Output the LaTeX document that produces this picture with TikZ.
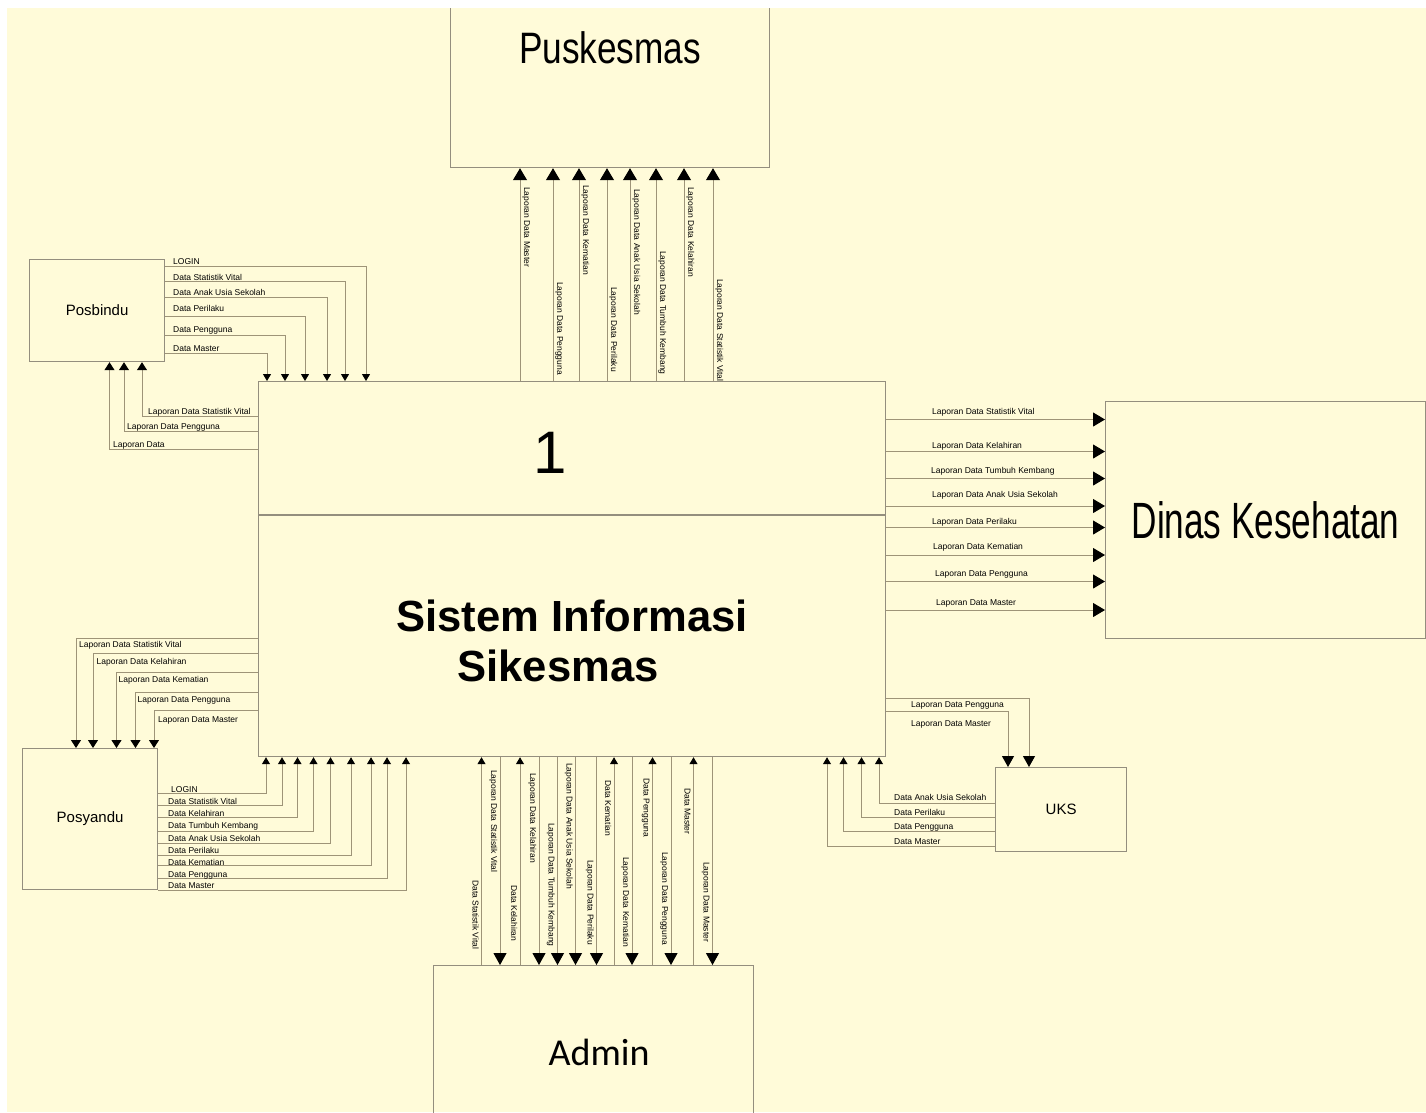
\documentclass[tikz,border=0pt]{standalone}
\usepackage{fontspec}
\setmainfont{Liberation Sans}
\newfontfamily\adminfont{Carlito}
\usetikzlibrary{arrows.meta}

\definecolor{paper}{RGB}{255,251,217}
\definecolor{wire}{RGB}{158,148,120}
\definecolor{edge}{RGB}{148,142,126}

\tikzset{
  ent/.style={draw=edge, line width=1.2pt, inner sep=0pt, anchor=north west},
  flow/.style={draw=wire, line width=1pt},
  lbl/.style={font=\fontsize{8.5}{10}\selectfont, inner sep=0pt, text=black},
  tipL/.style={-{Triangle[width=14pt,length=12pt,color=black,fill=black]}},
  tipA/.style={-{Triangle[width=13pt,length=12pt,color=black,fill=black]}},
  tipU/.style={-{Triangle[width=12pt,length=11pt,color=black,fill=black]}},
  tipM/.style={-{Triangle[width=10pt,length=8pt,color=black,fill=black]}},
  tipS/.style={-{Triangle[width=8pt,length=7pt,color=black,fill=black]}},
}

\begin{document}
\begin{tikzpicture}[x=1pt,y=-1pt]
\useasboundingbox (0,0) rectangle (1426,1112);
\fill[white] (0,0) rectangle (1426,1112);
\fill[paper] (7,8) rectangle (1426,1112);

\begin{scope}
\clip (7,8) rectangle (1426,1112);

% external entities and the process
\node[ent, minimum width=319pt, minimum height=240pt] (pusk) at (450,-73)
  {\fontsize{44}{50}\selectfont\scalebox{0.8}[1]{Puskesmas}};
\node[ent, minimum width=320pt, minimum height=237pt] (dk) at (1105,401)
  {\raisebox{-4pt}{\fontsize{51}{56}\selectfont\scalebox{0.69}[1]{Dinas Kesehatan}}};
\node[ent, minimum width=320pt, minimum height=174pt] (adm) at (433,965)
  {\adminfont\fontsize{38}{42}\selectfont\hspace*{11pt}Admin};
\node[ent, minimum width=135pt, minimum height=102pt] (pb) at (29,259)
  {\fontsize{15}{18}\selectfont Posbindu};
\node[ent, minimum width=135pt, minimum height=141pt] (py) at (22,748)
  {\fontsize{15}{18}\selectfont Posyandu};
\node[ent, minimum width=131pt, minimum height=84pt] (uks) at (995,767)
  {\fontsize{15}{18}\selectfont UKS};
\node[ent, minimum width=627pt, minimum height=375pt] (proc) at (258,381) {};
\draw[draw=edge, line width=1.2pt] (proc.west |- 0,515) -- (proc.east |- 0,515);
\node (pnum) at (550,453) {\fontsize{60}{66}\selectfont 1};
\node[align=center, font=\fontsize{43.6}{50}\selectfont\bfseries] (pname) at (572,641)
  {Sistem Informasi\\Sikesmas\hspace*{28pt}};

% process -> Puskesmas
\foreach \lx/\ys/\txt in {
  520/187/Laporan Data Master,
  553/282/Laporan Data Pengguna,
  579/185/Laporan Data Kematian,
  607/287/Laporan Data Perilaku,
  630/189/Laporan Data Anak Usia Sekolah,
  656/251/Laporan Data Tumbuh Kembang,
  684/187/Laporan Data Kelahiran,
  713/279/Laporan Data Statistik Vital}{
  \draw[flow, tipL] (proc.north -| \lx,0) -- (pusk.south -| \lx,0);
  \node[lbl, rotate=-90, anchor=base west] at (\lx+4,\ys) {\txt};
}

% Posbindu -> process
\foreach \ly/\lx/\cy/\txt in {
  266/366/261.5/LOGIN,
  281/345/277/Data Statistik Vital,
  297/327/292.5/Data Anak Usia Sekolah,
  316/305/308.5/Data Perilaku,
  335/285/329/Data Pengguna,
  353/267/348/Data Master}{
  \draw[flow, tipS] (pb.east |- 0,\ly) -| (proc.north -| \lx,0);
  \node[lbl, anchor=base west] at (173,\cy+3) {\txt};
}

% process -> Posbindu
\foreach \ly/\lx/\tx/\cy/\txt in {
  416/142/148/411.5/Laporan Data Statistik Vital,
  431/124/127/426.5/Laporan Data Pengguna,
  449.5/109.5/113/444.5/Laporan Data}{
  \draw[flow, tipM] (proc.west |- 0,\ly) -| (pb.south -| \lx,0);
  \node[lbl, anchor=base west] at (\tx,\cy+3) {\txt};
}

% process -> Posyandu
\foreach \ly/\lx/\tx/\cy/\txt in {
  638/76/79/644/Laporan Data Statistik Vital,
  653.5/93/96.5/661/Laporan Data Kelahiran,
  672.5/116.5/118.5/679/Laporan Data Kematian,
  692/135.5/137.5/699/Laporan Data Pengguna,
  710/154/158/719/Laporan Data Master}{
  \draw[flow, tipM] (proc.west |- 0,\ly) -| (py.north -| \lx,0);
  \node[lbl, anchor=base west] at (\tx,\cy+3) {\txt};
}

% Posyandu -> process
\foreach \ly/\lx/\tx/\cy/\txt in {
  793.5/266/171/789/LOGIN,
  805.5/282/168/801.5/Data Statistik Vital,
  817.5/297.5/168/813/Data Kelahiran,
  831.5/313.5/168/825/Data Tumbuh Kembang,
  843.5/330.5/168/838.5/Data Anak Usia Sekolah,
  855.5/351/168/850.5/Data Perilaku,
  865.5/371/168/862/Data Kematian,
  878/387/168/874/Data Pengguna,
  890.5/406/168/885.5/Data Master}{
  \draw[flow, tipS] (py.east |- 0,\ly) -| (proc.south -| \lx,0);
  \node[lbl, anchor=base west] at (\tx,\cy+3) {\txt};
}

% process -> Dinas Kesehatan
\foreach \ly/\tx/\cy/\txt in {
  419.5/932/411.5/Laporan Data Statistik Vital,
  451.5/932/445.5/Laporan Data Kelahiran,
  478.5/931/470/Laporan Data Tumbuh Kembang,
  506/932/494.5/Laporan Data Anak Usia Sekolah,
  527.5/932/521/Laporan Data Perilaku,
  555/933/546/Laporan Data Kematian,
  581.5/935/573.5/Laporan Data Pengguna,
  610/936/602.5/Laporan Data Master}{
  \draw[flow, tipL] (proc.east |- 0,\ly) -- (dk.west |- 0,\ly);
  \node[lbl, anchor=base west] at (\tx,\cy+3) {\txt};
}

% process -> UKS
\foreach \ly/\lx/\cy/\txt in {
  698.5/1029/704/Laporan Data Pengguna,
  711.5/1008/723/Laporan Data Master}{
  \draw[flow, tipU] (proc.east |- 0,\ly) -| (uks.north -| \lx,0);
  \node[lbl, anchor=base west] at (911,\cy+3) {\txt};
}

% UKS -> process
\foreach \ly/\lx/\cy/\txt in {
  803/879/797.5/Data Anak Usia Sekolah,
  817/861.5/812.5/Data Perilaku,
  831.5/843.5/826.5/Data Pengguna,
  846.5/827/841.5/Data Master}{
  \draw[flow, tipS] (uks.west |- 0,\ly) -| (proc.south -| \lx,0);
  \node[lbl, anchor=base west] at (894,\cy+3) {\txt};
}

% Admin -> process
\foreach \lx/\ys/\txt in {
  481.5/880/Data Statistik Vital,
  520/885/Data Kelahiran,
  614/780/Data Kematian,
  652.5/778/Data Pengguna,
  693.5/788/Data Master}{
  \draw[flow, tipS] (adm.north -| \lx,0) -- (proc.south -| \lx,0);
  \node[lbl, rotate=-90, anchor=base west] at (\lx-9,\ys) {\txt};
}

% process -> Admin
\foreach \lx/\ys/\txt in {
  500/770/Laporan Data Statistik Vital,
  539/773/Laporan Data Kelahiran,
  557.5/823/Laporan Data Tumbuh Kembang,
  575.5/763/Laporan Data Anak Usia Sekolah,
  596.5/860/Laporan Data Perilaku,
  632/857/Laporan Data Kematian,
  671/852/Laporan Data Pengguna,
  712.5/862/Laporan Data Master}{
  \draw[flow, tipA] (proc.south -| \lx,0) -- (adm.north -| \lx,0);
  \node[lbl, rotate=-90, anchor=base west] at (\lx-9,\ys) {\txt};
}
\end{scope}
\end{tikzpicture}
\end{document}
